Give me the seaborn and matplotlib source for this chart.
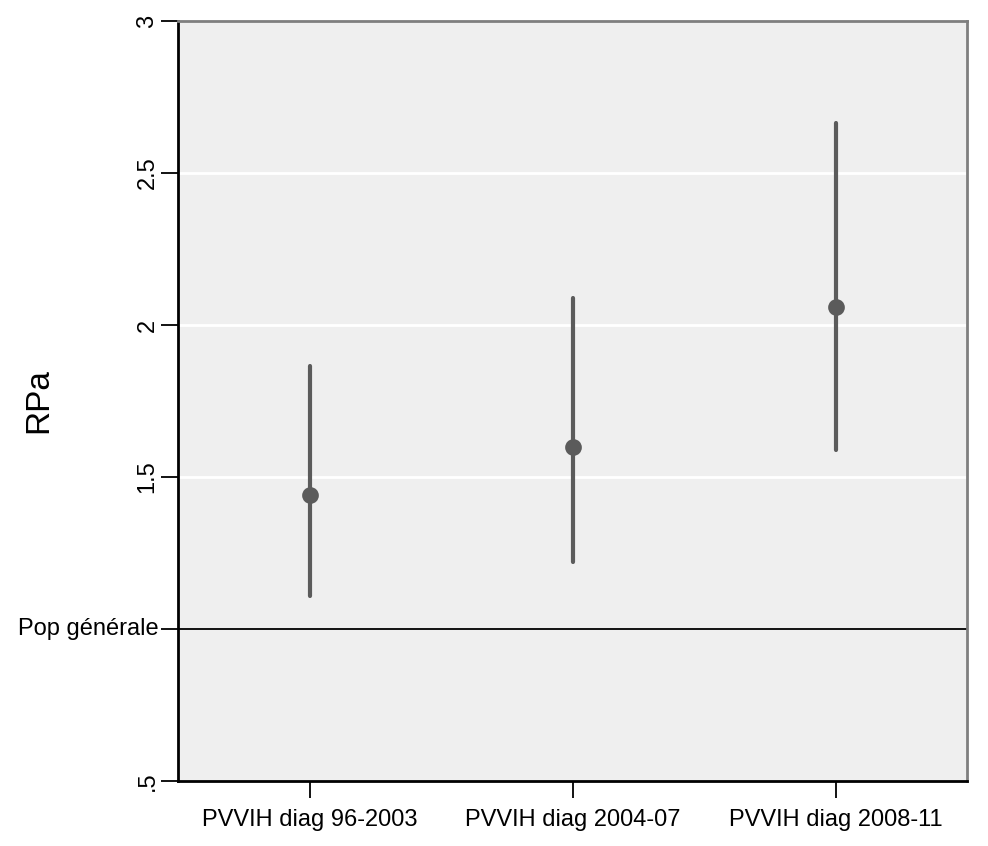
import matplotlib
matplotlib.use("Agg")
import matplotlib.pyplot as plt
import seaborn as sns
import pandas as pd

categories = ["PVVIH diag 96-2003", "PVVIH diag 2004-07", "PVVIH diag 2008-11"]
estimates = [1.44, 1.60, 2.06]
lower = [1.11, 1.22, 1.59]
upper = [1.865, 2.09, 2.665]
ytick_values = [0.5, 1.0, 1.5, 2.0, 2.5, 3.0]
ytick_labels = [".5", "Pop générale", "1.5", "2", "2.5", "3"]

sns.set_theme(style="white")
plt.rcParams["font.family"] = ["Liberation Sans", "DejaVu Sans"]
plt.rcParams["text.color"] = "black"
plt.rcParams["xtick.color"] = "black"
plt.rcParams["ytick.color"] = "black"
plt.rcParams["axes.labelcolor"] = "black"

rows = []
for c, lo, est, hi in zip(categories, lower, estimates, upper):
    for v in (lo, est, hi):
        rows.append({"cat": c, "RPa": v})
df = pd.DataFrame(rows)

fig = plt.figure(figsize=(9.88, 8.46), dpi=100)
ax = fig.add_axes([178/988, 1-781/846, (967-178)/988, (781-21)/846])
ax.set_facecolor("#efefef")

for y in [1.5, 2.0, 2.5]:
    ax.axhline(y, color="white", lw=2, zorder=0.5)
ax.axhline(1.0, color="black", lw=1.3, zorder=0.6)

sns.pointplot(data=df, x="cat", y="RPa", order=categories,
              estimator="median", errorbar=lambda v: (v.min(), v.max()),
              linestyle="none", color="#5b5b5b", markersize=10,
              err_kws={"linewidth": 3}, capsize=0, ax=ax, zorder=3)

ax.set_xlim(-0.5, 2.5)
ax.set_ylim(0.5, 3.0)
ax.set_yticks(ytick_values)
ax.set_yticklabels(ytick_labels, fontsize=17)
for lab in ax.get_yticklabels():
    if lab.get_text() == "Pop générale":
        lab.set_rotation(0)
    else:
        lab.set_rotation(90)
    lab.set_va("center")
ax.tick_params(axis="y", left=True, length=12, width=1.3, color="black", pad=2, labelcolor="black")
ax.tick_params(axis="x", bottom=True, length=12, width=1.3, color="black", pad=8, labelsize=17, labelcolor="black")
ax.set_xlabel("")
ax.set_ylabel("RPa", fontsize=24, color="black")
ax.yaxis.set_label_coords(-0.157, 0.5)

for side in ["left", "bottom"]:
    ax.spines[side].set_color("black")
    ax.spines[side].set_linewidth(2)
for side in ["top", "right"]:
    ax.spines[side].set_color("#7f7f7f")
    ax.spines[side].set_linewidth(2)

fig.savefig("out.png", dpi=100)
